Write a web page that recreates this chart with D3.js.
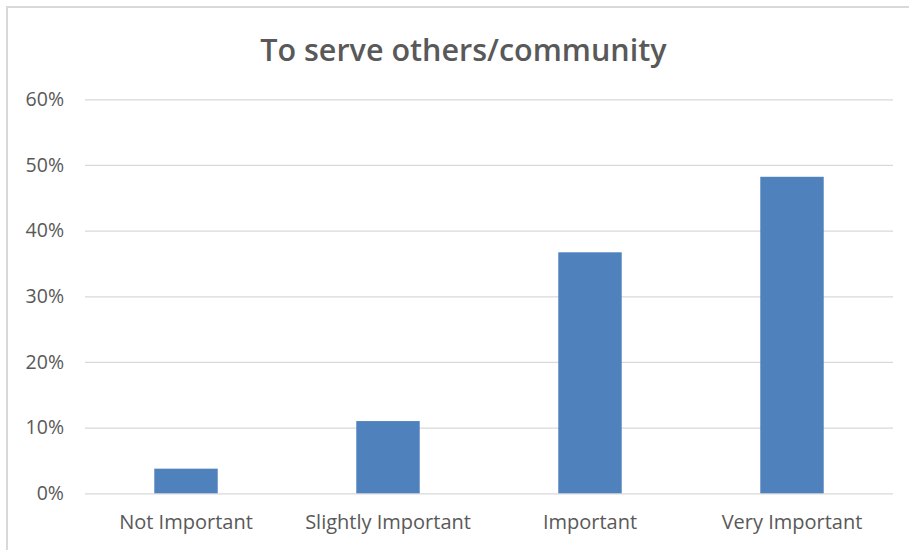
<!DOCTYPE html>
<html>
<head>
<meta charset="utf-8">
<script src="https://cdn.jsdelivr.net/npm/d3@7"></script>
<style>
  body { margin: 0; background: #fff; }
  svg { display: block; font-family: "Open Sans", sans-serif; }
</style>
</head>
<body>
<script>
// data
const categories = ["Not Important", "Slightly Important", "Important", "Very Important"];
const values = [0.0375, 0.110, 0.367, 0.482];
const yTicks = [0, 0.1, 0.2, 0.3, 0.4, 0.5, 0.6];
const title = "To serve others/community";

const W = 909, H = 550;
const margin = {top: 99.3, right: 16, bottom: 56.7, left: 85};
const plotW = W - margin.left - margin.right;
const plotH = H - margin.top - margin.bottom;

const svg = d3.select("body").append("svg")
    .attr("width", W)
    .attr("height", H);

// chart frame (only top + left visible in the crop)
svg.append("rect")
    .attr("x", 7).attr("y", 7)
    .attr("width", 940).attr("height", 580)
    .attr("fill", "none")
    .attr("stroke", "#d9d9d9")
    .attr("stroke-width", 2);

const x = d3.scaleBand()
    .domain(categories)
    .range([0, plotW])
    .paddingInner(0.686)
    .paddingOuter(0.343);

const y = d3.scaleLinear()
    .domain([0, 0.6])
    .range([plotH, 0]);

const g = svg.append("g")
    .attr("transform", `translate(${margin.left},${margin.top})`);

// gridlines + y labels
const axeY = d3.axisLeft(y)
    .tickValues(yTicks)
    .tickSize(-plotW)
    .tickPadding(21)
    .tickFormat(d3.format(".0%"));

const groupeY = g.append("g").call(axeY);
groupeY.select(".domain").remove();
groupeY.selectAll(".tick line")
    .attr("stroke", "#d9d9d9")
    .attr("stroke-width", 1.3);
groupeY.selectAll(".tick text")
    .attr("fill", "#595959")
    .style("font-size", "19.5px")
    .style("font-family", "'Open Sans', sans-serif");

// bars
g.selectAll("rect.bar")
    .data(values)
    .enter()
    .append("rect")
    .attr("class", "bar")
    .attr("fill", "#4f81bd")
    .attr("x", (d, i) => x(categories[i]))
    .attr("width", x.bandwidth())
    .attr("y", d => y(d))
    .attr("height", d => plotH - y(d));

// category labels
const axeX = d3.axisBottom(x).tickSize(0).tickPadding(22);
const groupeX = g.append("g")
    .attr("transform", `translate(0,${plotH})`)
    .call(axeX);
groupeX.select(".domain").remove();
groupeX.selectAll(".tick text")
    .attr("fill", "#595959")
    .style("font-size", "20px")
    .style("font-family", "'Open Sans', sans-serif");

// title
svg.append("text")
    .attr("x", 463.4)
    .attr("y", 61)
    .attr("text-anchor", "middle")
    .attr("fill", "#595959")
    .style("font-size", "30.5px")
    .style("font-weight", "600")
    .text(title);
</script>
</body>
</html>
